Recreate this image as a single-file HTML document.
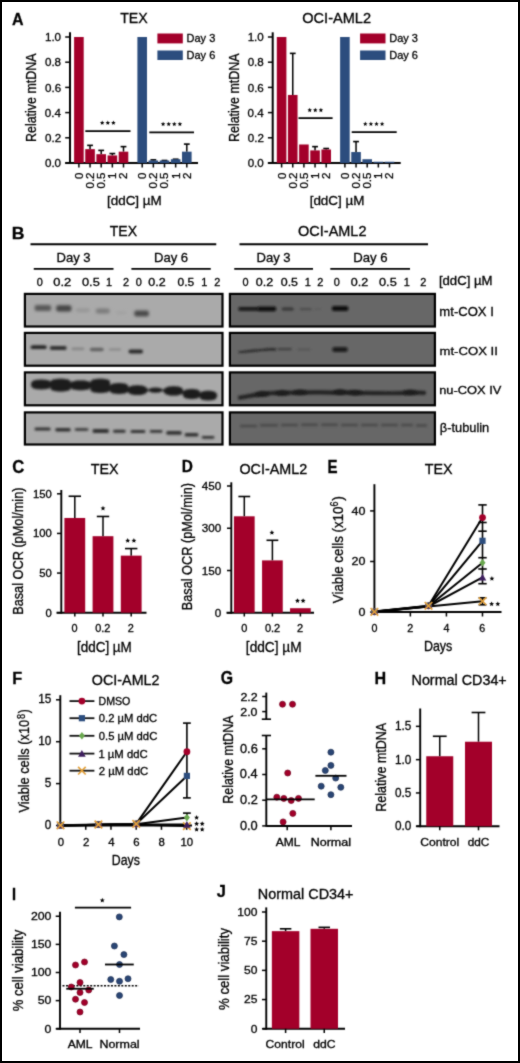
<!DOCTYPE html>
<html><head><meta charset="utf-8"><style>
html,body{margin:0;padding:0;background:#fff;overflow:hidden;}
svg{display:block;font-family:"Liberation Sans", sans-serif;will-change:transform;}
text{stroke:#000;stroke-width:0.3px;paint-order:stroke;}
</style></head><body>
<svg width="520" height="1063" viewBox="0 0 520 1063" xmlns="http://www.w3.org/2000/svg">
<defs><filter id="soft" x="0" y="0" width="520" height="1063" filterUnits="userSpaceOnUse" color-interpolation-filters="sRGB"><feConvolveMatrix order="3" kernelMatrix="0.03 0.09 0.03 0.09 0.52 0.09 0.03 0.09 0.03" edgeMode="duplicate"/></filter><filter id="b1" x="-20%" y="-100%" width="140%" height="300%"><feGaussianBlur stdDeviation="1.0"/></filter><filter id="b2" x="-20%" y="-100%" width="140%" height="300%"><feGaussianBlur stdDeviation="1.4"/></filter><filter id="b3" x="-20%" y="-100%" width="140%" height="300%"><feGaussianBlur stdDeviation="0.8"/></filter></defs>
<g filter="url(#soft)"><rect x="0" y="0" width="520" height="1063" fill="#fff"/>
<line x1="70" y1="32.3" x2="70" y2="164" stroke="#000" stroke-width="2"/>
<line x1="65.2" y1="163" x2="70" y2="163" stroke="#000" stroke-width="1.5"/>
<text transform="translate(44.94 167.1)" font-size="11.60" fill="#000">0.0</text>
<line x1="65.2" y1="137.8" x2="70" y2="137.8" stroke="#000" stroke-width="1.5"/>
<text transform="translate(45.06 141.9)" font-size="11.60" fill="#000">0.2</text>
<line x1="65.2" y1="112.6" x2="70" y2="112.6" stroke="#000" stroke-width="1.5"/>
<text transform="translate(44.82 116.7)" font-size="11.60" fill="#000">0.4</text>
<line x1="65.2" y1="87.4" x2="70" y2="87.4" stroke="#000" stroke-width="1.5"/>
<text transform="translate(45 91.5)" font-size="11.60" fill="#000">0.6</text>
<line x1="65.2" y1="62.2" x2="70" y2="62.2" stroke="#000" stroke-width="1.5"/>
<text transform="translate(44.94 66.3)" font-size="11.60" fill="#000">0.8</text>
<line x1="65.2" y1="37" x2="70" y2="37" stroke="#000" stroke-width="1.5"/>
<text transform="translate(44.94 41.1)" font-size="11.60" fill="#000">1.0</text>
<line x1="65.2" y1="163" x2="198" y2="163" stroke="#000" stroke-width="2"/>
<rect x="74.1" y="37" width="9.6" height="126" fill="#a3002a"/>
<line x1="90.05" y1="145.36" x2="90.05" y2="149.14" stroke="#000" stroke-width="1.5"/>
<line x1="87.15" y1="145.36" x2="92.95" y2="145.36" stroke="#000" stroke-width="1.6"/>
<rect x="85.25" y="149.14" width="9.6" height="13.86" fill="#a3002a"/>
<line x1="101.2" y1="150.4" x2="101.2" y2="154.18" stroke="#000" stroke-width="1.5"/>
<line x1="98.3" y1="150.4" x2="104.1" y2="150.4" stroke="#000" stroke-width="1.6"/>
<rect x="96.4" y="154.18" width="9.6" height="8.82" fill="#a3002a"/>
<line x1="112.35" y1="153.55" x2="112.35" y2="155.44" stroke="#000" stroke-width="1.5"/>
<line x1="109.45" y1="153.55" x2="115.25" y2="153.55" stroke="#000" stroke-width="1.6"/>
<rect x="107.55" y="155.44" width="9.6" height="7.56" fill="#a3002a"/>
<line x1="123.5" y1="146.62" x2="123.5" y2="151.66" stroke="#000" stroke-width="1.5"/>
<line x1="120.6" y1="146.62" x2="126.4" y2="146.62" stroke="#000" stroke-width="1.6"/>
<rect x="118.7" y="151.66" width="9.6" height="11.34" fill="#a3002a"/>
<line x1="78.9" y1="163" x2="78.9" y2="167.5" stroke="#000" stroke-width="1.5"/>
<line x1="90.05" y1="163" x2="90.05" y2="167.5" stroke="#000" stroke-width="1.5"/>
<line x1="101.2" y1="163" x2="101.2" y2="167.5" stroke="#000" stroke-width="1.5"/>
<line x1="112.35" y1="163" x2="112.35" y2="167.5" stroke="#000" stroke-width="1.5"/>
<line x1="123.5" y1="163" x2="123.5" y2="167.5" stroke="#000" stroke-width="1.5"/>
<rect x="137.4" y="37" width="9.6" height="126" fill="#2c4d7e"/>
<line x1="153.35" y1="159.85" x2="153.35" y2="160.48" stroke="#000" stroke-width="1.5"/>
<line x1="150.45" y1="159.85" x2="156.25" y2="159.85" stroke="#000" stroke-width="1.6"/>
<rect x="148.55" y="160.48" width="9.6" height="2.52" fill="#2c4d7e"/>
<line x1="164.5" y1="160.48" x2="164.5" y2="160.48" stroke="#000" stroke-width="1.5"/>
<line x1="161.6" y1="160.48" x2="167.4" y2="160.48" stroke="#000" stroke-width="1.6"/>
<rect x="159.7" y="160.48" width="9.6" height="2.52" fill="#2c4d7e"/>
<line x1="175.65" y1="159.22" x2="175.65" y2="159.22" stroke="#000" stroke-width="1.5"/>
<line x1="172.75" y1="159.22" x2="178.55" y2="159.22" stroke="#000" stroke-width="1.6"/>
<rect x="170.85" y="159.22" width="9.6" height="3.78" fill="#2c4d7e"/>
<line x1="186.8" y1="144.1" x2="186.8" y2="151.66" stroke="#000" stroke-width="1.5"/>
<line x1="183.9" y1="144.1" x2="189.7" y2="144.1" stroke="#000" stroke-width="1.6"/>
<rect x="182" y="151.66" width="9.6" height="11.34" fill="#2c4d7e"/>
<line x1="142.2" y1="163" x2="142.2" y2="167.5" stroke="#000" stroke-width="1.5"/>
<line x1="153.35" y1="163" x2="153.35" y2="167.5" stroke="#000" stroke-width="1.5"/>
<line x1="164.5" y1="163" x2="164.5" y2="167.5" stroke="#000" stroke-width="1.5"/>
<line x1="175.65" y1="163" x2="175.65" y2="167.5" stroke="#000" stroke-width="1.5"/>
<line x1="186.8" y1="163" x2="186.8" y2="167.5" stroke="#000" stroke-width="1.5"/>
<text transform="translate(82.8 179.02) rotate(-90)" font-size="11.50" fill="#000">0</text>
<text transform="translate(93.95 188.51) rotate(-90)" font-size="11.50" fill="#000">0.2</text>
<text transform="translate(105.1 188.62) rotate(-90)" font-size="11.50" fill="#000">0.5</text>
<text transform="translate(116.25 178.91) rotate(-90)" font-size="11.50" fill="#000">1</text>
<text transform="translate(127.4 178.91) rotate(-90)" font-size="11.50" fill="#000">2</text>
<text transform="translate(146.1 179.02) rotate(-90)" font-size="11.50" fill="#000">0</text>
<text transform="translate(157.25 188.51) rotate(-90)" font-size="11.50" fill="#000">0.2</text>
<text transform="translate(168.4 188.62) rotate(-90)" font-size="11.50" fill="#000">0.5</text>
<text transform="translate(179.55 178.91) rotate(-90)" font-size="11.50" fill="#000">1</text>
<text transform="translate(190.7 178.91) rotate(-90)" font-size="11.50" fill="#000">2</text>
<line x1="85.3" y1="131.1" x2="130.5" y2="131.1" stroke="#000" stroke-width="1.8"/>
<polygon points="102.2,120.5 102.83,122.03 104.48,122.16 103.23,123.23 103.61,124.84 102.2,123.98 100.79,124.84 101.17,123.23 99.92,122.16 101.57,122.03" fill="#000"/>
<polygon points="107.8,120.5 108.43,122.03 110.08,122.16 108.83,123.23 109.21,124.84 107.8,123.98 106.39,124.84 106.77,123.23 105.52,122.16 107.17,122.03" fill="#000"/>
<polygon points="113.4,120.5 114.03,122.03 115.68,122.16 114.43,123.23 114.81,124.84 113.4,123.98 111.99,124.84 112.37,123.23 111.12,122.16 112.77,122.03" fill="#000"/>
<line x1="149.3" y1="132.3" x2="194" y2="132.3" stroke="#000" stroke-width="1.8"/>
<polygon points="163.1,121.7 163.73,123.23 165.38,123.36 164.13,124.43 164.51,126.04 163.1,125.18 161.69,126.04 162.07,124.43 160.82,123.36 162.47,123.23" fill="#000"/>
<polygon points="168.7,121.7 169.33,123.23 170.98,123.36 169.73,124.43 170.11,126.04 168.7,125.18 167.29,126.04 167.67,124.43 166.42,123.36 168.07,123.23" fill="#000"/>
<polygon points="174.3,121.7 174.93,123.23 176.58,123.36 175.33,124.43 175.71,126.04 174.3,125.18 172.89,126.04 173.27,124.43 172.02,123.36 173.67,123.23" fill="#000"/>
<polygon points="179.9,121.7 180.53,123.23 182.18,123.36 180.93,124.43 181.31,126.04 179.9,125.18 178.49,126.04 178.87,124.43 177.62,123.36 179.27,123.23" fill="#000"/>
<text transform="translate(106.96 205.3) scale(1.021 1)" font-size="13.17" fill="#000">[ddC] µM</text>
<text transform="translate(35.8 142) rotate(-90) scale(0.842 1)" font-size="14.78" fill="#000">Relative mtDNA</text>
<text transform="translate(120.22 22.9) scale(0.923 1)" font-size="15.36" fill="#000">TEX</text>
<rect x="157.4" y="33.5" width="25.4" height="9.9" fill="#a3002a"/>
<rect x="157.4" y="50.5" width="25.4" height="9.5" fill="#2c4d7e"/>
<text transform="translate(186.52 41.8)" font-size="11.00" fill="#000">Day 3</text>
<text transform="translate(186.52 58.5)" font-size="11.00" fill="#000">Day 6</text>
<line x1="272.7" y1="32.3" x2="272.7" y2="164" stroke="#000" stroke-width="2"/>
<line x1="267.9" y1="163" x2="272.7" y2="163" stroke="#000" stroke-width="1.5"/>
<text transform="translate(247.64 167.1)" font-size="11.60" fill="#000">0.0</text>
<line x1="267.9" y1="137.8" x2="272.7" y2="137.8" stroke="#000" stroke-width="1.5"/>
<text transform="translate(247.76 141.9)" font-size="11.60" fill="#000">0.2</text>
<line x1="267.9" y1="112.6" x2="272.7" y2="112.6" stroke="#000" stroke-width="1.5"/>
<text transform="translate(247.52 116.7)" font-size="11.60" fill="#000">0.4</text>
<line x1="267.9" y1="87.4" x2="272.7" y2="87.4" stroke="#000" stroke-width="1.5"/>
<text transform="translate(247.7 91.5)" font-size="11.60" fill="#000">0.6</text>
<line x1="267.9" y1="62.2" x2="272.7" y2="62.2" stroke="#000" stroke-width="1.5"/>
<text transform="translate(247.64 66.3)" font-size="11.60" fill="#000">0.8</text>
<line x1="267.9" y1="37" x2="272.7" y2="37" stroke="#000" stroke-width="1.5"/>
<text transform="translate(247.64 41.1)" font-size="11.60" fill="#000">1.0</text>
<line x1="267.9" y1="163" x2="400.7" y2="163" stroke="#000" stroke-width="2"/>
<rect x="276.8" y="37" width="9.6" height="126" fill="#a3002a"/>
<line x1="292.75" y1="53.38" x2="292.75" y2="94.96" stroke="#000" stroke-width="1.5"/>
<line x1="289.85" y1="53.38" x2="295.65" y2="53.38" stroke="#000" stroke-width="1.6"/>
<rect x="287.95" y="94.96" width="9.6" height="68.04" fill="#a3002a"/>
<rect x="299.1" y="144.48" width="9.6" height="18.52" fill="#a3002a"/>
<line x1="315.05" y1="146.62" x2="315.05" y2="150.4" stroke="#000" stroke-width="1.5"/>
<line x1="312.15" y1="146.62" x2="317.95" y2="146.62" stroke="#000" stroke-width="1.6"/>
<rect x="310.25" y="150.4" width="9.6" height="12.6" fill="#a3002a"/>
<line x1="326.2" y1="148.51" x2="326.2" y2="149.52" stroke="#000" stroke-width="1.5"/>
<line x1="323.3" y1="148.51" x2="329.1" y2="148.51" stroke="#000" stroke-width="1.6"/>
<rect x="321.4" y="149.52" width="9.6" height="13.48" fill="#a3002a"/>
<line x1="281.6" y1="163" x2="281.6" y2="167.5" stroke="#000" stroke-width="1.5"/>
<line x1="292.75" y1="163" x2="292.75" y2="167.5" stroke="#000" stroke-width="1.5"/>
<line x1="303.9" y1="163" x2="303.9" y2="167.5" stroke="#000" stroke-width="1.5"/>
<line x1="315.05" y1="163" x2="315.05" y2="167.5" stroke="#000" stroke-width="1.5"/>
<line x1="326.2" y1="163" x2="326.2" y2="167.5" stroke="#000" stroke-width="1.5"/>
<rect x="340.1" y="37" width="9.6" height="126" fill="#2c4d7e"/>
<line x1="356.05" y1="141.58" x2="356.05" y2="152.04" stroke="#000" stroke-width="1.5"/>
<line x1="353.15" y1="141.58" x2="358.95" y2="141.58" stroke="#000" stroke-width="1.6"/>
<rect x="351.25" y="152.04" width="9.6" height="10.96" fill="#2c4d7e"/>
<rect x="362.4" y="159.22" width="9.6" height="3.78" fill="#2c4d7e"/>
<rect x="373.55" y="161.74" width="9.6" height="1.26" fill="#2c4d7e"/>
<rect x="384.7" y="161.74" width="9.6" height="1.26" fill="#2c4d7e"/>
<line x1="344.9" y1="163" x2="344.9" y2="167.5" stroke="#000" stroke-width="1.5"/>
<line x1="356.05" y1="163" x2="356.05" y2="167.5" stroke="#000" stroke-width="1.5"/>
<line x1="367.2" y1="163" x2="367.2" y2="167.5" stroke="#000" stroke-width="1.5"/>
<line x1="378.35" y1="163" x2="378.35" y2="167.5" stroke="#000" stroke-width="1.5"/>
<line x1="389.5" y1="163" x2="389.5" y2="167.5" stroke="#000" stroke-width="1.5"/>
<text transform="translate(285.5 179.02) rotate(-90)" font-size="11.50" fill="#000">0</text>
<text transform="translate(296.65 188.51) rotate(-90)" font-size="11.50" fill="#000">0.2</text>
<text transform="translate(307.8 188.62) rotate(-90)" font-size="11.50" fill="#000">0.5</text>
<text transform="translate(318.95 178.91) rotate(-90)" font-size="11.50" fill="#000">1</text>
<text transform="translate(330.1 178.91) rotate(-90)" font-size="11.50" fill="#000">2</text>
<text transform="translate(348.8 179.02) rotate(-90)" font-size="11.50" fill="#000">0</text>
<text transform="translate(359.95 188.51) rotate(-90)" font-size="11.50" fill="#000">0.2</text>
<text transform="translate(371.1 188.62) rotate(-90)" font-size="11.50" fill="#000">0.5</text>
<text transform="translate(382.25 178.91) rotate(-90)" font-size="11.50" fill="#000">1</text>
<text transform="translate(393.4 178.91) rotate(-90)" font-size="11.50" fill="#000">2</text>
<line x1="298.5" y1="118.2" x2="332.6" y2="118.2" stroke="#000" stroke-width="1.8"/>
<polygon points="309.7,107.8 310.33,109.33 311.98,109.46 310.73,110.53 311.11,112.14 309.7,111.28 308.29,112.14 308.67,110.53 307.42,109.46 309.07,109.33" fill="#000"/>
<polygon points="315.3,107.8 315.93,109.33 317.58,109.46 316.33,110.53 316.71,112.14 315.3,111.28 313.89,112.14 314.27,110.53 313.02,109.46 314.67,109.33" fill="#000"/>
<polygon points="320.9,107.8 321.53,109.33 323.18,109.46 321.93,110.53 322.31,112.14 320.9,111.28 319.49,112.14 319.87,110.53 318.62,109.46 320.27,109.33" fill="#000"/>
<line x1="351.7" y1="132.1" x2="396.7" y2="132.1" stroke="#000" stroke-width="1.8"/>
<polygon points="365.3,121.6 365.93,123.13 367.58,123.26 366.33,124.33 366.71,125.94 365.3,125.08 363.89,125.94 364.27,124.33 363.02,123.26 364.67,123.13" fill="#000"/>
<polygon points="370.9,121.6 371.53,123.13 373.18,123.26 371.93,124.33 372.31,125.94 370.9,125.08 369.49,125.94 369.87,124.33 368.62,123.26 370.27,123.13" fill="#000"/>
<polygon points="376.5,121.6 377.13,123.13 378.78,123.26 377.53,124.33 377.91,125.94 376.5,125.08 375.09,125.94 375.47,124.33 374.22,123.26 375.87,123.13" fill="#000"/>
<polygon points="382.1,121.6 382.73,123.13 384.38,123.26 383.13,124.33 383.51,125.94 382.1,125.08 380.69,125.94 381.07,124.33 379.82,123.26 381.47,123.13" fill="#000"/>
<text transform="translate(309.66 205.3) scale(1.021 1)" font-size="13.17" fill="#000">[ddC] µM</text>
<text transform="translate(238.5 142) rotate(-90) scale(0.842 1)" font-size="14.78" fill="#000">Relative mtDNA</text>
<text transform="translate(302.24 23.4) scale(1.020 1)" font-size="14.29" fill="#000">OCI-AML2</text>
<rect x="360.1" y="33.5" width="25.4" height="9.9" fill="#a3002a"/>
<rect x="360.1" y="50.5" width="25.4" height="9.5" fill="#2c4d7e"/>
<text transform="translate(389.22 41.8)" font-size="11.00" fill="#000">Day 3</text>
<text transform="translate(389.22 58.5)" font-size="11.00" fill="#000">Day 6</text>
<text transform="translate(12.1 25) scale(0.918 1)" font-size="17.39" font-weight="bold" fill="#000">A</text>
<text transform="translate(11.85 238.75) scale(1.081 1)" font-size="16.30" font-weight="bold" fill="#000">B</text>
<text transform="translate(109.72 236.25) scale(1.020 1)" font-size="13.77" fill="#000">TEX</text>
<line x1="30.5" y1="244.25" x2="216.25" y2="244.25" stroke="#000" stroke-width="1.8"/>
<text transform="translate(56.45 261.75) scale(0.976 1)" font-size="13.41" fill="#000">Day 3</text>
<text transform="translate(153.95 261.75) scale(0.976 1)" font-size="13.41" fill="#000">Day 6</text>
<line x1="33.75" y1="268.8" x2="113.5" y2="268.8" stroke="#000" stroke-width="1.8"/>
<line x1="131.4" y1="268.8" x2="210.75" y2="268.8" stroke="#000" stroke-width="1.8"/>
<text transform="translate(298.1 236.25) scale(1.014 1)" font-size="14.29" fill="#000">OCI-AML2</text>
<line x1="239.5" y1="244.25" x2="428" y2="244.25" stroke="#000" stroke-width="1.8"/>
<text transform="translate(256.45 261.75) scale(0.976 1)" font-size="13.41" fill="#000">Day 3</text>
<text transform="translate(353.2 261.75) scale(0.983 1)" font-size="13.41" fill="#000">Day 6</text>
<line x1="234.25" y1="268.8" x2="313" y2="268.8" stroke="#000" stroke-width="1.8"/>
<line x1="330.3" y1="268.8" x2="410" y2="268.8" stroke="#000" stroke-width="1.8"/>
<text transform="translate(36.85 285.5)" font-size="10.90" fill="#000">0</text>
<text transform="translate(53.23 285.5) scale(1.182 1)" font-size="10.90" fill="#000">0.2</text>
<text transform="translate(81.99 285.5) scale(1.173 1)" font-size="10.90" fill="#000">0.5</text>
<text transform="translate(105.96 285.5)" font-size="10.90" fill="#000">1</text>
<text transform="translate(123.1 285.5)" font-size="10.90" fill="#000">2</text>
<text transform="translate(135.85 285.5)" font-size="10.90" fill="#000">0</text>
<text transform="translate(148.25 285.5) scale(1.147 1)" font-size="10.90" fill="#000">0.2</text>
<text transform="translate(177.52 285.5) scale(1.103 1)" font-size="10.90" fill="#000">0.5</text>
<text transform="translate(201.21 285.5)" font-size="10.90" fill="#000">1</text>
<text transform="translate(214.23 285.5)" font-size="10.90" fill="#000">2</text>
<text transform="translate(242.6 285.5)" font-size="10.90" fill="#000">0</text>
<text transform="translate(255.75 285.5) scale(1.147 1)" font-size="10.90" fill="#000">0.2</text>
<text transform="translate(280.75 285.5) scale(1.138 1)" font-size="10.90" fill="#000">0.5</text>
<text transform="translate(304.71 285.5)" font-size="10.90" fill="#000">1</text>
<text transform="translate(317.23 285.5)" font-size="10.90" fill="#000">2</text>
<text transform="translate(333.85 285.5)" font-size="10.90" fill="#000">0</text>
<text transform="translate(350.75 285.5) scale(1.147 1)" font-size="10.90" fill="#000">0.2</text>
<text transform="translate(378.99 285.5) scale(1.173 1)" font-size="10.90" fill="#000">0.5</text>
<text transform="translate(403.71 285.5)" font-size="10.90" fill="#000">1</text>
<text transform="translate(420.35 285.5)" font-size="10.90" fill="#000">2</text>
<text transform="translate(438.88 284.8) scale(1.110 1)" font-size="11.86" fill="#000">[ddC] µM</text>
<text transform="translate(439.35 315.6) scale(1.007 1)" font-size="13.00" fill="#000">mt-COX I</text>
<text transform="translate(439.55 354.6) scale(1.120 1)" font-size="11.71" fill="#000">mt-COX II</text>
<text transform="translate(439.16 393.7) scale(1.126 1)" font-size="11.43" fill="#000">nu-COX IV</text>
<text transform="translate(439.8 432.1) scale(0.971 1)" font-size="13.23" fill="#000">β-tubulin</text>
<rect x="24.9" y="293.9" width="197.6" height="32.6" fill="#aaaaaa" stroke="#000" stroke-width="2.2"/>
<rect x="229.9" y="293.9" width="205" height="32.6" fill="#676767" stroke="#000" stroke-width="2.2"/>
<rect x="24.9" y="332.9" width="197.6" height="32.8" fill="#aaaaaa" stroke="#000" stroke-width="2.2"/>
<rect x="229.9" y="332.9" width="205" height="32.8" fill="#676767" stroke="#000" stroke-width="2.2"/>
<rect x="24.9" y="372.4" width="197.6" height="32.9" fill="#aaaaaa" stroke="#000" stroke-width="2.2"/>
<rect x="229.9" y="372.4" width="205" height="32.9" fill="#676767" stroke="#000" stroke-width="2.2"/>
<rect x="24.9" y="412.4" width="197.6" height="32.1" fill="#aaaaaa" stroke="#000" stroke-width="2.2"/>
<rect x="229.9" y="412.4" width="205" height="32.1" fill="#676767" stroke="#000" stroke-width="2.2"/>
<rect x="34.6" y="304.9" width="16.6" height="6" rx="2" fill="#595959" filter="url(#b2)"/>
<rect x="56.2" y="305.15" width="15.2" height="6.3" rx="2" fill="#444444" filter="url(#b2)"/>
<rect x="75.8" y="308.3" width="13.9" height="4" rx="2" fill="#979797" filter="url(#b2)"/>
<rect x="95.8" y="308.5" width="13.9" height="5" rx="2" fill="#7b7b7b" filter="url(#b2)"/>
<rect x="115.8" y="311.3" width="10.8" height="3" rx="2" fill="#a1a1a1" filter="url(#b2)"/>
<rect x="134.3" y="310.6" width="14.6" height="6" rx="2" fill="#4a4a4a" filter="url(#b2)"/>
<rect x="30.6" y="345.3" width="16.1" height="3.8" rx="2" fill="#262626" filter="url(#b1)"/>
<rect x="49.8" y="346.1" width="16.9" height="3.8" rx="2" fill="#303030" filter="url(#b1)"/>
<rect x="71.4" y="347.4" width="13" height="2.8" rx="2" fill="#878787" filter="url(#b1)"/>
<rect x="89.8" y="347.85" width="13.9" height="3.3" rx="2" fill="#626262" filter="url(#b1)"/>
<rect x="108.8" y="348.3" width="12.3" height="2.4" rx="1.8" fill="#8c8c8c" filter="url(#b1)"/>
<rect x="128.5" y="349.4" width="14.5" height="4" rx="2" fill="#2c2c2c" filter="url(#b1)"/>
<polygon points="31.8,381.8 33.68,380.58 35.56,380.11 37.44,379.82 39.32,379.65 41.2,379.6 43.08,379.65 44.96,379.82 46.84,380.11 48.72,380.58 50.6,381.8 50.6,381 52.6,379.78 54.6,379.31 56.6,379.02 58.6,378.85 60.6,378.8 62.6,378.85 64.6,379.02 66.6,379.31 68.6,379.78 70.6,381 70.6,382.6 72.6,381.38 74.6,380.91 76.6,380.62 78.6,380.45 80.6,380.4 82.6,380.45 84.6,380.62 86.6,380.91 88.6,381.38 90.6,382.6 90.6,381 92.54,379.78 94.48,379.31 96.42,379.02 98.36,378.85 100.3,378.8 102.24,378.85 104.18,379.02 106.12,379.31 108.06,379.78 110,381 110,385.2 111.8,383.98 113.6,383.51 115.4,383.22 117.2,383.05 119,383 120.8,383.05 122.6,383.22 124.4,383.51 126.2,383.98 128,385.2 128.6,387.5 130.36,386.28 132.12,385.81 133.88,385.52 135.64,385.35 137.4,385.3 139.16,385.35 140.92,385.52 142.68,385.81 144.44,386.28 146.2,387.5 148.4,389.8 149.82,388.58 151.24,388.11 152.66,387.82 154.08,387.65 155.5,387.6 156.92,387.65 158.34,387.82 159.76,388.11 161.18,388.58 162.6,389.8 164.8,388.5 166.56,387.28 168.32,386.81 170.08,386.52 171.84,386.35 173.6,386.3 175.36,386.35 177.12,386.52 178.88,386.81 180.64,387.28 182.4,388.5 183.4,391.2 185.05,389.98 186.7,389.51 188.35,389.22 190,389.05 191.65,389 193.3,389.05 194.95,389.22 196.6,389.51 198.25,389.98 199.9,391.2 199.9,392.9 201.54,391.68 203.18,391.21 204.82,390.92 206.46,390.75 208.1,390.7 209.74,390.75 211.38,390.92 213.02,391.21 214.66,391.68 216.3,392.9 217.3,395.55 216.3,398.2 214.66,399.42 213.02,399.89 211.38,400.18 209.74,400.35 208.1,400.4 206.46,400.35 204.82,400.18 203.18,399.89 201.54,399.42 199.9,398.2 199.9,396.8 198.25,398.02 196.6,398.49 194.95,398.78 193.3,398.95 191.65,399 190,398.95 188.35,398.78 186.7,398.49 185.05,398.02 183.4,396.8 182.4,393.4 180.64,394.62 178.88,395.09 177.12,395.38 175.36,395.55 173.6,395.6 171.84,395.55 170.08,395.38 168.32,395.09 166.56,394.62 164.8,393.4 162.6,390.6 161.18,391.82 159.76,392.29 158.34,392.58 156.92,392.75 155.5,392.8 154.08,392.75 152.66,392.58 151.24,392.29 149.82,391.82 148.4,390.6 146.2,392.9 144.44,394.12 142.68,394.59 140.92,394.88 139.16,395.05 137.4,395.1 135.64,395.05 133.88,394.88 132.12,394.59 130.36,394.12 128.6,392.9 128,391.8 126.2,393.02 124.4,393.49 122.6,393.78 120.8,393.95 119,394 117.2,393.95 115.4,393.78 113.6,393.49 111.8,393.02 110,391.8 110,390.8 108.06,392.02 106.12,392.49 104.18,392.78 102.24,392.95 100.3,393 98.36,392.95 96.42,392.78 94.48,392.49 92.54,392.02 90.6,390.8 90.6,388 88.6,389.22 86.6,389.69 84.6,389.98 82.6,390.15 80.6,390.2 78.6,390.15 76.6,389.98 74.6,389.69 72.6,389.22 70.6,388 70.6,389.3 68.6,390.52 66.6,390.99 64.6,391.28 62.6,391.45 60.6,391.5 58.6,391.45 56.6,391.28 54.6,390.99 52.6,390.52 50.6,389.3 50.6,387.2 48.72,388.42 46.84,388.89 44.96,389.18 43.08,389.35 41.2,389.4 39.32,389.35 37.44,389.18 35.56,388.89 33.68,388.42 31.8,387.2 30.8,384.5" fill="#1c1c1c" filter="url(#b1)"/>
<rect x="34.5" y="427.5" width="16.1" height="3" rx="1.5" fill="#303030" filter="url(#b1)"/>
<rect x="55.3" y="428" width="15.3" height="3.4" rx="1.5" fill="#303030" filter="url(#b1)"/>
<rect x="74.8" y="428.3" width="13.5" height="2.4" rx="1.5" fill="#303030" filter="url(#b1)"/>
<rect x="92.6" y="429" width="16.2" height="4" rx="1.5" fill="#303030" filter="url(#b1)"/>
<rect x="113" y="429.7" width="12.6" height="3" rx="1.5" fill="#303030" filter="url(#b1)"/>
<rect x="130.5" y="429.9" width="14.9" height="3" rx="1.5" fill="#303030" filter="url(#b1)"/>
<rect x="149.8" y="430" width="12.7" height="2.8" rx="1.5" fill="#303030" filter="url(#b1)"/>
<rect x="166.3" y="431" width="15.3" height="3.8" rx="1.5" fill="#303030" filter="url(#b1)"/>
<rect x="184.7" y="432.9" width="13.7" height="3.6" rx="1.5" fill="#303030" filter="url(#b1)"/>
<rect x="201.8" y="435.9" width="12.6" height="2.8" rx="1.5" fill="#303030" filter="url(#b1)"/>
<rect x="238.3" y="307" width="20.6" height="3.8" rx="2" fill="#161616" filter="url(#b1)"/>
<rect x="257.5" y="306.4" width="18.7" height="4.8" rx="2" fill="#111111" filter="url(#b1)"/>
<rect x="281.6" y="307.5" width="12.2" height="3" rx="2" fill="#353535" filter="url(#b1)"/>
<rect x="299.6" y="308.1" width="12.2" height="2.2" rx="1.7" fill="#4c4c4c" filter="url(#b1)"/>
<rect x="314.4" y="308.4" width="6.8" height="1.6" rx="1.4" fill="#5a5a5a" filter="url(#b1)"/>
<rect x="331.8" y="306.1" width="16.6" height="4.8" rx="2" fill="#101010" filter="url(#b1)"/>
<path d="M238,351.6 C245,350.6 252,349.8 258,349.4 L268,348.5 C272,348.2 275,348.4 276,348.8 L276,350.6 C270,350.4 262,351.0 256,351.4 C250,352.0 244,352.6 238.5,352.8 Z" fill="#1e1e1e" filter="url(#b3)"/>
<rect x="277.3" y="348.1" width="14.65" height="2.2" rx="1.7" fill="#404040" filter="url(#b1)"/>
<rect x="297.3" y="348.6" width="13.4" height="1.8" rx="1.5" fill="#555555" filter="url(#b1)"/>
<rect x="332.3" y="347.3" width="15.4" height="4.4" rx="2" fill="#121212" filter="url(#b1)"/>
<path d="M240,397.6 C250,395.8 262,393.6 272,393.2 S300,392.2 320,392.3 S350,392.8 380,393.2 S410,392.2 424,392.8" stroke="#242424" stroke-width="4.2" fill="none" stroke-linecap="round" filter="url(#b1)"/>
<ellipse cx="262" cy="394.2" rx="7" ry="2.6" fill="#1e1e1e" filter="url(#b1)"/>
<ellipse cx="282" cy="393.2" rx="7" ry="2.6" fill="#1e1e1e" filter="url(#b1)"/>
<ellipse cx="300" cy="392.4" rx="7" ry="2.6" fill="#1e1e1e" filter="url(#b1)"/>
<ellipse cx="340" cy="392.0" rx="7" ry="2.6" fill="#1e1e1e" filter="url(#b1)"/>
<ellipse cx="355" cy="392.6" rx="7" ry="2.6" fill="#1e1e1e" filter="url(#b1)"/>
<ellipse cx="410" cy="392.3" rx="7" ry="2.6" fill="#1e1e1e" filter="url(#b1)"/>
<rect x="239.8" y="424.5" width="17.4" height="3" rx="1.5" fill="#4e4e4e" filter="url(#b1)"/>
<rect x="259.8" y="423.7" width="18.4" height="3" rx="1.5" fill="#4e4e4e" filter="url(#b1)"/>
<rect x="280.8" y="423.4" width="17.4" height="3" rx="1.5" fill="#4e4e4e" filter="url(#b1)"/>
<rect x="300.8" y="423.3" width="17.4" height="3" rx="1.5" fill="#4e4e4e" filter="url(#b1)"/>
<rect x="320.8" y="423.3" width="17.4" height="3" rx="1.5" fill="#4e4e4e" filter="url(#b1)"/>
<rect x="340.8" y="423.5" width="17.4" height="3" rx="1.5" fill="#4e4e4e" filter="url(#b1)"/>
<rect x="360.8" y="423.5" width="17.4" height="3" rx="1.5" fill="#4e4e4e" filter="url(#b1)"/>
<rect x="380.8" y="423.5" width="17.4" height="3" rx="1.5" fill="#4e4e4e" filter="url(#b1)"/>
<rect x="400.8" y="423.5" width="12.4" height="3" rx="1.5" fill="#4e4e4e" filter="url(#b1)"/>
<rect x="415.8" y="423.9" width="11.4" height="3" rx="1.5" fill="#4e4e4e" filter="url(#b1)"/>
<text transform="translate(12.13 473.12) scale(0.916 1)" font-size="18.17" font-weight="bold" fill="#000">C</text>
<text transform="translate(181.8 472.4) scale(0.896 1)" font-size="17.25" font-weight="bold" fill="#000">D</text>
<text transform="translate(327.52 472.6) scale(0.858 1)" font-size="17.54" font-weight="bold" fill="#000">E</text>
<text transform="translate(12.14 684) scale(0.960 1)" font-size="16.96" font-weight="bold" fill="#000">F</text>
<text transform="translate(220.77 684.12) scale(0.879 1)" font-size="18.03" font-weight="bold" fill="#000">G</text>
<text transform="translate(374.55 684) scale(0.950 1)" font-size="16.96" font-weight="bold" fill="#000">H</text>
<text transform="translate(11.96 899.5) scale(0.833 1)" font-size="17.39" font-weight="bold" fill="#000">I</text>
<text transform="translate(216.75 896.73) scale(0.974 1)" font-size="16.86" font-weight="bold" fill="#000">J</text>
<line x1="61.3" y1="490" x2="61.3" y2="613.7" stroke="#000" stroke-width="1.9"/>
<line x1="57" y1="612.7" x2="61.3" y2="612.7" stroke="#000" stroke-width="1.5"/>
<line x1="57" y1="573.07" x2="61.3" y2="573.07" stroke="#000" stroke-width="1.5"/>
<line x1="57" y1="533.43" x2="61.3" y2="533.43" stroke="#000" stroke-width="1.5"/>
<line x1="57" y1="493.8" x2="61.3" y2="493.8" stroke="#000" stroke-width="1.5"/>
<line x1="56.5" y1="612.7" x2="146.5" y2="612.7" stroke="#000" stroke-width="2"/>
<text transform="translate(45.49 616.6) scale(1.098 1)" font-size="10.28" fill="#000">0</text>
<text transform="translate(39.22 576.97) scale(1.098 1)" font-size="10.28" fill="#000">50</text>
<text transform="translate(32.95 537.33) scale(1.098 1)" font-size="10.28" fill="#000">100</text>
<text transform="translate(32.95 497.7) scale(1.098 1)" font-size="10.28" fill="#000">150</text>
<line x1="74.8" y1="496.25" x2="74.8" y2="517.97" stroke="#000" stroke-width="1.5"/>
<line x1="68.6" y1="496.25" x2="81" y2="496.25" stroke="#000" stroke-width="1.6"/>
<rect x="64.4" y="517.97" width="20.8" height="94.73" fill="#a3002a"/>
<line x1="74.8" y1="612.7" x2="74.8" y2="616.5" stroke="#000" stroke-width="1.5"/>
<line x1="103" y1="516.47" x2="103" y2="536.2" stroke="#000" stroke-width="1.5"/>
<line x1="96.8" y1="516.47" x2="109.2" y2="516.47" stroke="#000" stroke-width="1.6"/>
<rect x="92.6" y="536.2" width="20.8" height="76.5" fill="#a3002a"/>
<line x1="103" y1="612.7" x2="103" y2="616.5" stroke="#000" stroke-width="1.5"/>
<line x1="131.2" y1="548.57" x2="131.2" y2="555.63" stroke="#000" stroke-width="1.5"/>
<line x1="125" y1="548.57" x2="137.4" y2="548.57" stroke="#000" stroke-width="1.6"/>
<rect x="120.8" y="555.63" width="20.8" height="57.07" fill="#a3002a"/>
<line x1="131.2" y1="612.7" x2="131.2" y2="616.5" stroke="#000" stroke-width="1.5"/>
<polygon points="103,505.8 103.69,507.45 105.47,507.6 104.11,508.76 104.53,510.5 103,509.57 101.47,510.5 101.89,508.76 100.53,507.6 102.31,507.45" fill="#000"/>
<polygon points="127.7,538.1 128.39,539.75 130.17,539.9 128.81,541.06 129.23,542.8 127.7,541.87 126.17,542.8 126.59,541.06 125.23,539.9 127.01,539.75" fill="#000"/>
<polygon points="133.9,538.1 134.59,539.75 136.37,539.9 135.01,541.06 135.43,542.8 133.9,541.87 132.37,542.8 132.79,541.06 131.43,539.9 133.21,539.75" fill="#000"/>
<text transform="translate(71.58 631.9)" font-size="10.90" fill="#000">0</text>
<text transform="translate(95.23 631.9)" font-size="10.90" fill="#000">0.2</text>
<text transform="translate(127.63 631.9)" font-size="10.90" fill="#000">2</text>
<text transform="translate(76.96 651.6) scale(0.930 1)" font-size="14.48" fill="#000">[ddC] µM</text>
<text transform="translate(90.71 473.7) scale(0.951 1)" font-size="15.07" fill="#000">TEX</text>
<text transform="translate(23.4 614.82) rotate(-90) scale(0.880 1)" font-size="14.49" fill="#000">Basal OCR (pMol/min)</text>
<line x1="231.3" y1="482.3" x2="231.3" y2="613.8" stroke="#000" stroke-width="1.9"/>
<line x1="227" y1="612.8" x2="231.3" y2="612.8" stroke="#000" stroke-width="1.5"/>
<line x1="227" y1="570.53" x2="231.3" y2="570.53" stroke="#000" stroke-width="1.5"/>
<line x1="227" y1="528.26" x2="231.3" y2="528.26" stroke="#000" stroke-width="1.5"/>
<line x1="227" y1="485.99" x2="231.3" y2="485.99" stroke="#000" stroke-width="1.5"/>
<line x1="226.5" y1="612.8" x2="314" y2="612.8" stroke="#000" stroke-width="2"/>
<text transform="translate(214.68 616.8) scale(1.037 1)" font-size="11.27" fill="#000">0</text>
<text transform="translate(201.71 574.53) scale(1.037 1)" font-size="11.27" fill="#000">150</text>
<text transform="translate(201.71 532.26) scale(1.037 1)" font-size="11.27" fill="#000">300</text>
<text transform="translate(201.71 489.99) scale(1.037 1)" font-size="11.27" fill="#000">450</text>
<line x1="244.3" y1="496.5" x2="244.3" y2="516.31" stroke="#000" stroke-width="1.5"/>
<line x1="238.4" y1="496.5" x2="250.2" y2="496.5" stroke="#000" stroke-width="1.6"/>
<rect x="233.95" y="516.31" width="20.7" height="96.49" fill="#a3002a"/>
<line x1="244.3" y1="612.8" x2="244.3" y2="616.5" stroke="#000" stroke-width="1.5"/>
<line x1="272.4" y1="540.29" x2="272.4" y2="560.39" stroke="#000" stroke-width="1.5"/>
<line x1="266.5" y1="540.29" x2="278.3" y2="540.29" stroke="#000" stroke-width="1.6"/>
<rect x="262.05" y="560.39" width="20.7" height="52.41" fill="#a3002a"/>
<line x1="272.4" y1="612.8" x2="272.4" y2="616.5" stroke="#000" stroke-width="1.5"/>
<rect x="290.05" y="608.21" width="20.7" height="4.59" fill="#a3002a"/>
<line x1="300.4" y1="612.8" x2="300.4" y2="616.5" stroke="#000" stroke-width="1.5"/>
<polygon points="271.9,530.1 272.59,531.75 274.37,531.9 273.01,533.06 273.43,534.8 271.9,533.87 270.37,534.8 270.79,533.06 269.43,531.9 271.21,531.75" fill="#000"/>
<polygon points="297.5,598.2 298.19,599.85 299.97,600 298.61,601.16 299.03,602.9 297.5,601.97 295.97,602.9 296.39,601.16 295.03,600 296.81,599.85" fill="#000"/>
<polygon points="303.1,598.2 303.79,599.85 305.57,600 304.21,601.16 304.63,602.9 303.1,601.97 301.57,602.9 301.99,601.16 300.63,600 302.41,599.85" fill="#000"/>
<text transform="translate(241.15 632.4)" font-size="11.00" fill="#000">0</text>
<text transform="translate(264.91 632.4)" font-size="11.00" fill="#000">0.2</text>
<text transform="translate(297 632.4)" font-size="11.00" fill="#000">2</text>
<text transform="translate(245.84 651.6) scale(0.946 1)" font-size="14.48" fill="#000">[ddC] µM</text>
<text transform="translate(239.45 474.2) scale(1.036 1)" font-size="13.86" fill="#000">OCI-AML2</text>
<text transform="translate(192.4 610.22) rotate(-90) scale(0.878 1)" font-size="14.49" fill="#000">Basal OCR (pMol/min)</text>
<line x1="374.4" y1="484.2" x2="374.4" y2="613.1" stroke="#000" stroke-width="1.9"/>
<line x1="370.1" y1="612.1" x2="374.4" y2="612.1" stroke="#000" stroke-width="1.5"/>
<line x1="370.1" y1="561.5" x2="374.4" y2="561.5" stroke="#000" stroke-width="1.5"/>
<line x1="370.1" y1="510.9" x2="374.4" y2="510.9" stroke="#000" stroke-width="1.5"/>
<line x1="374.4" y1="612.1" x2="501.5" y2="612.1" stroke="#000" stroke-width="2"/>
<text transform="translate(358.54 615.8) scale(1.060 1)" font-size="11.83" fill="#000">0</text>
<text transform="translate(351.59 565.2) scale(1.060 1)" font-size="11.83" fill="#000">20</text>
<text transform="translate(351.59 514.6) scale(1.060 1)" font-size="11.83" fill="#000">40</text>
<line x1="410.36" y1="612.1" x2="410.36" y2="616.5" stroke="#000" stroke-width="1.5"/>
<line x1="446.42" y1="612.1" x2="446.42" y2="616.5" stroke="#000" stroke-width="1.5"/>
<line x1="482.48" y1="612.1" x2="482.48" y2="616.5" stroke="#000" stroke-width="1.5"/>
<text transform="translate(371.43 631.5)" font-size="10.70" fill="#000">0</text>
<text transform="translate(407.13 631.5)" font-size="10.70" fill="#000">2</text>
<text transform="translate(443.51 631.5)" font-size="10.70" fill="#000">4</text>
<text transform="translate(479.3 631.5)" font-size="10.70" fill="#000">6</text>
<text transform="translate(423.9 651.2) scale(0.887 1)" font-size="14.06" fill="#000">Days</text>
<text transform="translate(424.71 473.5) scale(0.979 1)" font-size="14.64" fill="#000">TEX</text>
<text transform="translate(343.4 603.17) rotate(-90) scale(0.901 1)" font-size="14.78" fill="#000">Viable cells (x10</text>
<text transform="translate(338 506.45) rotate(-90) scale(0.810 1)" font-size="11.00" fill="#000">6</text>
<text transform="translate(343.4 500.84) rotate(-90) scale(0.955 1)" font-size="14.50" fill="#000">)</text>
<line x1="60.3" y1="695.2" x2="60.3" y2="826.5" stroke="#000" stroke-width="1.9"/>
<line x1="56" y1="825.5" x2="60.3" y2="825.5" stroke="#000" stroke-width="1.5"/>
<line x1="56" y1="783.6" x2="60.3" y2="783.6" stroke="#000" stroke-width="1.5"/>
<line x1="56" y1="741.7" x2="60.3" y2="741.7" stroke="#000" stroke-width="1.5"/>
<line x1="56" y1="699.8" x2="60.3" y2="699.8" stroke="#000" stroke-width="1.5"/>
<line x1="60.3" y1="825.5" x2="192" y2="825.5" stroke="#000" stroke-width="2"/>
<text transform="translate(44.84 828.9) scale(0.992 1)" font-size="11.86" fill="#000">0</text>
<text transform="translate(44.84 787) scale(0.992 1)" font-size="11.86" fill="#000">5</text>
<text transform="translate(38.32 745.1) scale(0.992 1)" font-size="11.86" fill="#000">10</text>
<text transform="translate(38.32 703.2) scale(0.992 1)" font-size="11.86" fill="#000">15</text>
<line x1="85.74" y1="825.5" x2="85.74" y2="829.8" stroke="#000" stroke-width="1.5"/>
<line x1="110.98" y1="825.5" x2="110.98" y2="829.8" stroke="#000" stroke-width="1.5"/>
<line x1="136.22" y1="825.5" x2="136.22" y2="829.8" stroke="#000" stroke-width="1.5"/>
<line x1="161.46" y1="825.5" x2="161.46" y2="829.8" stroke="#000" stroke-width="1.5"/>
<line x1="186.7" y1="825.5" x2="186.7" y2="829.8" stroke="#000" stroke-width="1.5"/>
<text transform="translate(57.64 845.5)" font-size="11.40" fill="#000">0</text>
<text transform="translate(82.88 845.5)" font-size="11.40" fill="#000">2</text>
<text transform="translate(108.14 845.5)" font-size="11.40" fill="#000">4</text>
<text transform="translate(133.33 845.5)" font-size="11.40" fill="#000">6</text>
<text transform="translate(158.57 845.5)" font-size="11.40" fill="#000">8</text>
<text transform="translate(180.47 845.5)" font-size="11.40" fill="#000">10</text>
<text transform="translate(111.81 864.6) scale(0.851 1)" font-size="14.49" fill="#000">Days</text>
<text transform="translate(91.85 684.8) scale(1.024 1)" font-size="14.00" fill="#000">OCI-AML2</text>
<text transform="translate(29.4 812.56) rotate(-90) scale(0.856 1)" font-size="14.93" fill="#000">Viable cells (x10</text>
<text transform="translate(24.7 719.01) rotate(-90) scale(0.811 1)" font-size="11.29" fill="#000">8</text>
<text transform="translate(29.4 713.22) rotate(-90) scale(0.822 1)" font-size="14.50" fill="#000">)</text>
<line x1="266.3" y1="692.6" x2="266.3" y2="719.2" stroke="#000" stroke-width="1.9"/>
<line x1="261.8" y1="719.2" x2="271" y2="719.2" stroke="#000" stroke-width="1.6"/>
<line x1="262.2" y1="711.6" x2="266.3" y2="711.6" stroke="#000" stroke-width="1.5"/>
<line x1="262.2" y1="696.5" x2="266.3" y2="696.5" stroke="#000" stroke-width="1.5"/>
<text transform="translate(240.26 715.8) scale(1.059 1)" font-size="11.71" fill="#000">2.0</text>
<text transform="translate(240.38 700.7) scale(1.059 1)" font-size="11.71" fill="#000">2.2</text>
<line x1="266.3" y1="735.5" x2="266.3" y2="826.8" stroke="#000" stroke-width="1.9"/>
<line x1="261.8" y1="735.5" x2="271" y2="735.5" stroke="#000" stroke-width="1.6"/>
<line x1="262.2" y1="825.9" x2="266.3" y2="825.9" stroke="#000" stroke-width="1.5"/>
<line x1="262.2" y1="800.2" x2="266.3" y2="800.2" stroke="#000" stroke-width="1.5"/>
<line x1="262.2" y1="774.5" x2="266.3" y2="774.5" stroke="#000" stroke-width="1.5"/>
<line x1="262.2" y1="748.8" x2="266.3" y2="748.8" stroke="#000" stroke-width="1.5"/>
<text transform="translate(239.92 829.85) scale(1.075 1)" font-size="11.90" fill="#000">0.0</text>
<text transform="translate(240.05 804.15) scale(1.075 1)" font-size="11.90" fill="#000">0.2</text>
<text transform="translate(239.8 778.45) scale(1.075 1)" font-size="11.90" fill="#000">0.4</text>
<text transform="translate(239.99 752.75) scale(1.075 1)" font-size="11.90" fill="#000">0.6</text>
<line x1="266.3" y1="825.9" x2="352" y2="825.9" stroke="#000" stroke-width="2"/>
<line x1="287.2" y1="825.9" x2="287.2" y2="830.2" stroke="#000" stroke-width="1.5"/>
<line x1="330.9" y1="825.9" x2="330.9" y2="830.2" stroke="#000" stroke-width="1.5"/>
<text transform="translate(275.74 845.5) scale(1.132 1)" font-size="10.58" fill="#000">AML</text>
<text transform="translate(310.7 845.5) scale(1.243 1)" font-size="10.07" fill="#000">Normal</text>
<circle cx="282.5" cy="704.25" r="3" fill="#a3002a" stroke="#6e001c" stroke-width="0.7"/>
<circle cx="292.5" cy="704.25" r="3" fill="#a3002a" stroke="#6e001c" stroke-width="0.7"/>
<circle cx="287.7" cy="773" r="3" fill="#a3002a" stroke="#6e001c" stroke-width="0.7"/>
<circle cx="276.8" cy="797.2" r="3" fill="#a3002a" stroke="#6e001c" stroke-width="0.7"/>
<circle cx="283.8" cy="798.4" r="3" fill="#a3002a" stroke="#6e001c" stroke-width="0.7"/>
<circle cx="291.2" cy="800.5" r="3" fill="#a3002a" stroke="#6e001c" stroke-width="0.7"/>
<circle cx="298.5" cy="798.4" r="3" fill="#a3002a" stroke="#6e001c" stroke-width="0.7"/>
<circle cx="292.8" cy="813.4" r="3" fill="#a3002a" stroke="#6e001c" stroke-width="0.7"/>
<circle cx="283.1" cy="821.9" r="3" fill="#a3002a" stroke="#6e001c" stroke-width="0.7"/>
<circle cx="330.9" cy="752.2" r="3" fill="#2a4675" stroke="#1c2e52" stroke-width="0.7"/>
<circle cx="330.9" cy="765.4" r="3" fill="#2a4675" stroke="#1c2e52" stroke-width="0.7"/>
<circle cx="325.3" cy="770.5" r="3" fill="#2a4675" stroke="#1c2e52" stroke-width="0.7"/>
<circle cx="335.7" cy="778.1" r="3" fill="#2a4675" stroke="#1c2e52" stroke-width="0.7"/>
<circle cx="321.2" cy="786.2" r="3" fill="#2a4675" stroke="#1c2e52" stroke-width="0.7"/>
<circle cx="340.8" cy="787.3" r="3" fill="#2a4675" stroke="#1c2e52" stroke-width="0.7"/>
<circle cx="330.9" cy="794.7" r="3" fill="#2a4675" stroke="#1c2e52" stroke-width="0.7"/>
<line x1="266.9" y1="799.3" x2="314.7" y2="799.3" stroke="#000" stroke-width="1.8"/>
<line x1="315.4" y1="775.8" x2="346.5" y2="775.8" stroke="#000" stroke-width="1.8"/>
<text transform="translate(232.6 803.69) rotate(-90) scale(0.832 1)" font-size="14.93" fill="#000">Relative mtDNA</text>
<line x1="420.2" y1="708.5" x2="420.2" y2="827.2" stroke="#000" stroke-width="1.9"/>
<line x1="415.9" y1="826.25" x2="420.2" y2="826.25" stroke="#000" stroke-width="1.5"/>
<line x1="415.9" y1="792.95" x2="420.2" y2="792.95" stroke="#000" stroke-width="1.5"/>
<line x1="415.9" y1="759.65" x2="420.2" y2="759.65" stroke="#000" stroke-width="1.5"/>
<line x1="415.9" y1="726.35" x2="420.2" y2="726.35" stroke="#000" stroke-width="1.5"/>
<line x1="416.25" y1="826.25" x2="499.5" y2="826.25" stroke="#000" stroke-width="2"/>
<text transform="translate(395.02 830.15) scale(0.969 1)" font-size="12.14" fill="#000">0.0</text>
<text transform="translate(395.02 796.85) scale(0.969 1)" font-size="12.14" fill="#000">0.5</text>
<text transform="translate(395.02 763.55) scale(0.969 1)" font-size="12.14" fill="#000">1.0</text>
<text transform="translate(395.02 730.25) scale(0.969 1)" font-size="12.14" fill="#000">1.5</text>
<line x1="439.75" y1="736.27" x2="439.75" y2="756.25" stroke="#000" stroke-width="1.5"/>
<line x1="432.85" y1="736.27" x2="446.65" y2="736.27" stroke="#000" stroke-width="1.6"/>
<rect x="426.25" y="756.25" width="27" height="70" fill="#a3002a"/>
<line x1="439.75" y1="826.25" x2="439.75" y2="830.3" stroke="#000" stroke-width="1.5"/>
<line x1="478.5" y1="712.5" x2="478.5" y2="741.73" stroke="#000" stroke-width="1.5"/>
<line x1="471.6" y1="712.5" x2="485.4" y2="712.5" stroke="#000" stroke-width="1.6"/>
<rect x="465" y="741.73" width="27" height="84.52" fill="#a3002a"/>
<line x1="478.5" y1="826.25" x2="478.5" y2="830.3" stroke="#000" stroke-width="1.5"/>
<text transform="translate(420.19 845.6) scale(1.090 1)" font-size="11.14" fill="#000">Control</text>
<text transform="translate(467.63 845.6) scale(1.072 1)" font-size="11.03" fill="#000">ddC</text>
<text transform="translate(411.55 685.4) scale(1.042 1)" font-size="13.77" fill="#000">Normal CD34+</text>
<text transform="translate(386.4 811.8) rotate(-90) scale(0.856 1)" font-size="14.64" fill="#000">Relative mtDNA</text>
<line x1="60" y1="911.8" x2="60" y2="1029.7" stroke="#000" stroke-width="1.9"/>
<line x1="55.7" y1="1028.75" x2="60" y2="1028.75" stroke="#000" stroke-width="1.5"/>
<line x1="55.7" y1="1000.62" x2="60" y2="1000.62" stroke="#000" stroke-width="1.5"/>
<line x1="55.7" y1="972.5" x2="60" y2="972.5" stroke="#000" stroke-width="1.5"/>
<line x1="55.7" y1="944.38" x2="60" y2="944.38" stroke="#000" stroke-width="1.5"/>
<line x1="55.7" y1="916.25" x2="60" y2="916.25" stroke="#000" stroke-width="1.5"/>
<line x1="56.25" y1="1028.75" x2="140" y2="1028.75" stroke="#000" stroke-width="2"/>
<text transform="translate(44.56 1032.55) scale(1.054 1)" font-size="11.69" fill="#000">0</text>
<text transform="translate(37.72 1004.42) scale(1.054 1)" font-size="11.69" fill="#000">50</text>
<text transform="translate(30.88 976.3) scale(1.054 1)" font-size="11.69" fill="#000">100</text>
<text transform="translate(30.88 948.17) scale(1.054 1)" font-size="11.69" fill="#000">150</text>
<text transform="translate(30.88 920.05) scale(1.054 1)" font-size="11.69" fill="#000">200</text>
<line x1="80" y1="1028.75" x2="80" y2="1033" stroke="#000" stroke-width="1.5"/>
<line x1="119.5" y1="1028.75" x2="119.5" y2="1033" stroke="#000" stroke-width="1.5"/>
<text transform="translate(67.64 1048) scale(1.131 1)" font-size="10.72" fill="#000">AML</text>
<text transform="translate(99.4 1048) scale(1.223 1)" font-size="10.21" fill="#000">Normal</text>
<line x1="74.9" y1="907.7" x2="131.1" y2="907.7" stroke="#000" stroke-width="1.8"/>
<polygon points="102.3,897.8 102.99,899.45 104.77,899.6 103.41,900.76 103.83,902.5 102.3,901.57 100.77,902.5 101.19,900.76 99.83,899.6 101.61,899.45" fill="#000"/>
<line x1="62.5" y1="985.75" x2="138.75" y2="985.75" stroke="#000" stroke-width="1.6" stroke-dasharray="2 1.46"/>
<circle cx="75.5" cy="965" r="3" fill="#a3002a" stroke="#6e001c" stroke-width="0.7"/>
<circle cx="84.5" cy="962" r="3" fill="#a3002a" stroke="#6e001c" stroke-width="0.7"/>
<circle cx="80" cy="982.5" r="3" fill="#a3002a" stroke="#6e001c" stroke-width="0.7"/>
<circle cx="71.25" cy="987" r="3" fill="#a3002a" stroke="#6e001c" stroke-width="0.7"/>
<circle cx="88.75" cy="990" r="3" fill="#a3002a" stroke="#6e001c" stroke-width="0.7"/>
<circle cx="80" cy="992.5" r="3" fill="#a3002a" stroke="#6e001c" stroke-width="0.7"/>
<circle cx="75.5" cy="999.25" r="3" fill="#a3002a" stroke="#6e001c" stroke-width="0.7"/>
<circle cx="84.5" cy="1002.5" r="3" fill="#a3002a" stroke="#6e001c" stroke-width="0.7"/>
<circle cx="80" cy="1012" r="3" fill="#a3002a" stroke="#6e001c" stroke-width="0.7"/>
<circle cx="119.3" cy="916.9" r="3" fill="#2a4675" stroke="#1c2e52" stroke-width="0.7"/>
<circle cx="114.4" cy="946" r="3" fill="#2a4675" stroke="#1c2e52" stroke-width="0.7"/>
<circle cx="123.9" cy="954.6" r="3" fill="#2a4675" stroke="#1c2e52" stroke-width="0.7"/>
<circle cx="119.5" cy="964.5" r="3" fill="#2a4675" stroke="#1c2e52" stroke-width="0.7"/>
<circle cx="110.75" cy="979.5" r="3" fill="#2a4675" stroke="#1c2e52" stroke-width="0.7"/>
<circle cx="119.5" cy="981.25" r="3" fill="#2a4675" stroke="#1c2e52" stroke-width="0.7"/>
<circle cx="128" cy="978.75" r="3" fill="#2a4675" stroke="#1c2e52" stroke-width="0.7"/>
<circle cx="119.5" cy="995.5" r="3" fill="#2a4675" stroke="#1c2e52" stroke-width="0.7"/>
<line x1="66.25" y1="988.75" x2="93.75" y2="988.75" stroke="#000" stroke-width="1.8"/>
<line x1="105" y1="964.5" x2="133.75" y2="964.5" stroke="#000" stroke-width="1.8"/>
<text transform="translate(23.1 1011.36) rotate(-90) scale(0.942 1)" font-size="13.93" fill="#000">% cell viability</text>
<line x1="266.25" y1="907.4" x2="266.25" y2="1029.7" stroke="#000" stroke-width="1.9"/>
<line x1="261.95" y1="1028.75" x2="266.25" y2="1028.75" stroke="#000" stroke-width="1.5"/>
<line x1="261.95" y1="999.56" x2="266.25" y2="999.56" stroke="#000" stroke-width="1.5"/>
<line x1="261.95" y1="970.38" x2="266.25" y2="970.38" stroke="#000" stroke-width="1.5"/>
<line x1="261.95" y1="941.19" x2="266.25" y2="941.19" stroke="#000" stroke-width="1.5"/>
<line x1="261.95" y1="912" x2="266.25" y2="912" stroke="#000" stroke-width="1.5"/>
<line x1="262.5" y1="1028.75" x2="345" y2="1028.75" stroke="#000" stroke-width="2"/>
<text transform="translate(250.69 1032.65) scale(1.020 1)" font-size="11.83" fill="#000">0</text>
<text transform="translate(243.99 1003.46) scale(1.020 1)" font-size="11.83" fill="#000">25</text>
<text transform="translate(243.99 974.27) scale(1.020 1)" font-size="11.83" fill="#000">50</text>
<text transform="translate(243.99 945.09) scale(1.020 1)" font-size="11.83" fill="#000">75</text>
<text transform="translate(237.3 915.9) scale(1.020 1)" font-size="11.83" fill="#000">100</text>
<line x1="285.6" y1="928.81" x2="285.6" y2="931.15" stroke="#000" stroke-width="1.5"/>
<line x1="279.85" y1="928.81" x2="291.35" y2="928.81" stroke="#000" stroke-width="1.6"/>
<rect x="271.85" y="931.15" width="27.5" height="97.6" fill="#a3002a"/>
<line x1="285.6" y1="1028.75" x2="285.6" y2="1033" stroke="#000" stroke-width="1.5"/>
<line x1="324.25" y1="927.35" x2="324.25" y2="928.81" stroke="#000" stroke-width="1.5"/>
<line x1="318.5" y1="927.35" x2="330" y2="927.35" stroke="#000" stroke-width="1.6"/>
<rect x="310.5" y="928.81" width="27.5" height="99.94" fill="#a3002a"/>
<line x1="324.25" y1="1028.75" x2="324.25" y2="1033" stroke="#000" stroke-width="1.5"/>
<text transform="translate(265.59 1047.6) scale(1.115 1)" font-size="10.86" fill="#000">Control</text>
<text transform="translate(313.31 1047.6) scale(1.131 1)" font-size="10.76" fill="#000">ddC</text>
<text transform="translate(257.85 898.7) scale(1.047 1)" font-size="13.77" fill="#000">Normal CD34+</text>
<text transform="translate(229.1 1009.96) rotate(-90) scale(0.902 1)" font-size="14.62" fill="#000">% cell viability</text>
<polyline points="374.4,611.4 428.5,605.8 482.5,517.6" stroke="#000" stroke-width="2" fill="none"/>
<polyline points="374.4,611.55 428.5,606 482.5,540.8" stroke="#000" stroke-width="2" fill="none"/>
<polyline points="374.4,611.7 428.5,606.2 482.5,562.8" stroke="#000" stroke-width="2" fill="none"/>
<polyline points="374.4,611.85 428.5,606.4 482.5,577.4" stroke="#000" stroke-width="2" fill="none"/>
<polyline points="374.4,612 428.5,606.6 482.5,601.2" stroke="#000" stroke-width="2" fill="none"/>
<line x1="482.5" y1="504.9" x2="482.5" y2="583.7" stroke="#000" stroke-width="1.6"/>
<line x1="478.3" y1="504.9" x2="486.7" y2="504.9" stroke="#000" stroke-width="1.6"/>
<line x1="478.3" y1="522.5" x2="486.7" y2="522.5" stroke="#000" stroke-width="1.6"/>
<line x1="478.3" y1="531.2" x2="486.7" y2="531.2" stroke="#000" stroke-width="1.6"/>
<line x1="478.3" y1="557.7" x2="486.7" y2="557.7" stroke="#000" stroke-width="1.6"/>
<line x1="478.3" y1="569" x2="486.7" y2="569" stroke="#000" stroke-width="1.6"/>
<line x1="478.3" y1="583.7" x2="486.7" y2="583.7" stroke="#000" stroke-width="1.6"/>
<line x1="482.5" y1="597.8" x2="482.5" y2="604.8" stroke="#000" stroke-width="1.6"/>
<line x1="478.6" y1="597.8" x2="486.4" y2="597.8" stroke="#000" stroke-width="1.6"/>
<line x1="478.6" y1="604.8" x2="486.4" y2="604.8" stroke="#000" stroke-width="1.6"/>
<line x1="428.5" y1="602.5" x2="428.5" y2="609" stroke="#000" stroke-width="1.5"/>
<circle cx="482.5" cy="517.6" r="3.4" fill="#a3002a"/>
<rect x="479.4" y="537.7" width="6.2" height="6.2" fill="#2c4d7e"/>
<polygon points="482.5,559 485.5,562.8 482.5,566.6 479.5,562.8" fill="#6aa84f"/>
<polygon points="482.5,573.8 486.3,580.46 478.7,580.46" fill="#3e1f5e"/>
<path d="M478.7,597.4L486.3,605M486.3,597.4L478.7,605" stroke="#e3a03a" stroke-width="1.7" fill="none"/>
<circle cx="428.5" cy="605.8" r="3.4" fill="#a3002a"/>
<circle cx="374.4" cy="611.8" r="3.4" fill="#a3002a"/>
<rect x="425.4" y="602.7" width="6.2" height="6.2" fill="#2c4d7e"/>
<rect x="371.3" y="608.7" width="6.2" height="6.2" fill="#2c4d7e"/>
<polygon points="428.5,602 431.5,605.8 428.5,609.6 425.5,605.8" fill="#6aa84f"/>
<polygon points="374.4,608 377.4,611.8 374.4,615.6 371.4,611.8" fill="#6aa84f"/>
<polygon points="428.5,602.2 432.3,608.86 424.7,608.86" fill="#3e1f5e"/>
<polygon points="374.4,608.2 378.2,614.86 370.6,614.86" fill="#3e1f5e"/>
<path d="M424.7,602L432.3,609.6M432.3,602L424.7,609.6" stroke="#e3a03a" stroke-width="1.7" fill="none"/>
<path d="M370.6,608L378.2,615.6M378.2,608L370.6,615.6" stroke="#e3a03a" stroke-width="1.7" fill="none"/>
<polygon points="491.9,576 492.59,577.65 494.37,577.8 493.01,578.96 493.43,580.7 491.9,579.77 490.37,580.7 490.79,578.96 489.43,577.8 491.21,577.65" fill="#000"/>
<polygon points="491.6,601.4 492.29,603.05 494.07,603.2 492.71,604.36 493.13,606.1 491.6,605.17 490.07,606.1 490.49,604.36 489.13,603.2 490.91,603.05" fill="#000"/>
<polygon points="497.8,601.4 498.49,603.05 500.27,603.2 498.91,604.36 499.33,606.1 497.8,605.17 496.27,606.1 496.69,604.36 495.33,603.2 497.11,603.05" fill="#000"/>
<polyline points="60.5,825.3 98.4,824.6 136.2,823.9 186.9,751.7" stroke="#000" stroke-width="2" fill="none"/>
<polyline points="60.5,825.38 98.4,824.72 136.2,824.06 186.9,775.9" stroke="#000" stroke-width="2" fill="none"/>
<polyline points="60.5,825.46 98.4,824.84 136.2,824.22 186.9,817.6" stroke="#000" stroke-width="2" fill="none"/>
<polyline points="60.5,825.54 98.4,824.96 136.2,824.38 186.9,824.6" stroke="#000" stroke-width="2" fill="none"/>
<polyline points="60.5,825.62 98.4,825.08 136.2,824.54 186.9,826.1" stroke="#000" stroke-width="2" fill="none"/>
<line x1="186.9" y1="723.1" x2="186.9" y2="797.9" stroke="#000" stroke-width="1.6"/>
<line x1="183" y1="723.1" x2="190.8" y2="723.1" stroke="#000" stroke-width="1.6"/>
<line x1="183" y1="797.9" x2="190.8" y2="797.9" stroke="#000" stroke-width="1.6"/>
<line x1="186.9" y1="813.1" x2="186.9" y2="817.6" stroke="#000" stroke-width="1.6"/>
<line x1="183" y1="813.1" x2="190.8" y2="813.1" stroke="#000" stroke-width="1.6"/>
<path d="M183.1,822.3L190.7,829.9M190.7,822.3L183.1,829.9" stroke="#e3a03a" stroke-width="1.7" fill="none"/>
<polygon points="186.9,821 190.7,827.66 183.1,827.66" fill="#3e1f5e"/>
<polygon points="186.9,813.8 189.9,817.6 186.9,821.4 183.9,817.6" fill="#6aa84f"/>
<rect x="183.8" y="772.8" width="6.2" height="6.2" fill="#2c4d7e"/>
<circle cx="186.9" cy="751.7" r="3.4" fill="#a3002a"/>
<circle cx="98.4" cy="824.5" r="3.4" fill="#a3002a"/>
<circle cx="136.2" cy="823.9" r="3.4" fill="#a3002a"/>
<circle cx="60.5" cy="825.3" r="3.4" fill="#a3002a"/>
<rect x="95.3" y="821.4" width="6.2" height="6.2" fill="#2c4d7e"/>
<rect x="133.1" y="820.8" width="6.2" height="6.2" fill="#2c4d7e"/>
<rect x="57.4" y="822.2" width="6.2" height="6.2" fill="#2c4d7e"/>
<polygon points="98.4,820.7 101.4,824.5 98.4,828.3 95.4,824.5" fill="#6aa84f"/>
<polygon points="136.2,820.1 139.2,823.9 136.2,827.7 133.2,823.9" fill="#6aa84f"/>
<polygon points="60.5,821.5 63.5,825.3 60.5,829.1 57.5,825.3" fill="#6aa84f"/>
<polygon points="98.4,820.9 102.2,827.56 94.6,827.56" fill="#3e1f5e"/>
<polygon points="136.2,820.3 140,826.96 132.4,826.96" fill="#3e1f5e"/>
<polygon points="60.5,821.7 64.3,828.36 56.7,828.36" fill="#3e1f5e"/>
<path d="M94.6,820.7L102.2,828.3M102.2,820.7L94.6,828.3" stroke="#e3a03a" stroke-width="1.7" fill="none"/>
<path d="M132.4,820.1L140,827.7M140,820.1L132.4,827.7" stroke="#e3a03a" stroke-width="1.7" fill="none"/>
<path d="M56.7,821.5L64.3,829.1M64.3,821.5L56.7,829.1" stroke="#e3a03a" stroke-width="1.7" fill="none"/>
<polygon points="196.6,815 197.29,816.65 199.07,816.8 197.71,817.96 198.13,819.7 196.6,818.77 195.07,819.7 195.49,817.96 194.13,816.8 195.91,816.65" fill="#000"/>
<polygon points="196.6,821.2 197.29,822.85 199.07,823 197.71,824.16 198.13,825.9 196.6,824.97 195.07,825.9 195.49,824.16 194.13,823 195.91,822.85" fill="#000"/>
<polygon points="202.2,821.2 202.89,822.85 204.67,823 203.31,824.16 203.73,825.9 202.2,824.97 200.67,825.9 201.09,824.16 199.73,823 201.51,822.85" fill="#000"/>
<polygon points="196.6,826.9 197.29,828.55 199.07,828.7 197.71,829.86 198.13,831.6 196.6,830.67 195.07,831.6 195.49,829.86 194.13,828.7 195.91,828.55" fill="#000"/>
<polygon points="202.2,826.9 202.89,828.55 204.67,828.7 203.31,829.86 203.73,831.6 202.2,830.67 200.67,831.6 201.09,829.86 199.73,828.7 201.51,828.55" fill="#000"/>
<line x1="69.5" y1="701.1" x2="94.4" y2="701.1" stroke="#111" stroke-width="1.8"/>
<circle cx="81.9" cy="701.1" r="3.4" fill="#a3002a"/>
<text transform="translate(98.45 705.2) scale(0.968 1)" font-size="11.01" fill="#000">DMSO</text>
<line x1="69.5" y1="718.2" x2="94.4" y2="718.2" stroke="#111" stroke-width="1.8"/>
<rect x="78.8" y="715.1" width="6.2" height="6.2" fill="#2c4d7e"/>
<text transform="translate(98.85 722.3) scale(1.019 1)" font-size="11.01" fill="#000">0.2 µM ddC</text>
<line x1="69.5" y1="735.8" x2="94.4" y2="735.8" stroke="#111" stroke-width="1.8"/>
<polygon points="81.9,732 84.9,735.8 81.9,739.6 78.9,735.8" fill="#6aa84f"/>
<text transform="translate(98.85 739.9) scale(1.024 1)" font-size="11.01" fill="#000">0.5 µM ddC</text>
<line x1="69.5" y1="753.6" x2="94.4" y2="753.6" stroke="#111" stroke-width="1.8"/>
<polygon points="81.9,750 85.7,756.66 78.1,756.66" fill="#3e1f5e"/>
<text transform="translate(98.45 757.7) scale(1.026 1)" font-size="11.01" fill="#000">1 µM ddC</text>
<line x1="69.5" y1="770.7" x2="94.4" y2="770.7" stroke="#111" stroke-width="1.8"/>
<path d="M78.1,766.9L85.7,774.5M85.7,766.9L78.1,774.5" stroke="#e3a03a" stroke-width="1.7" fill="none"/>
<text transform="translate(98.73 774.8) scale(1.032 1)" font-size="11.01" fill="#000">2 µM ddC</text>
</g>
<rect x="1" y="1" width="518" height="1061" fill="none" stroke="#000" stroke-width="2"/>
</svg></body></html>
